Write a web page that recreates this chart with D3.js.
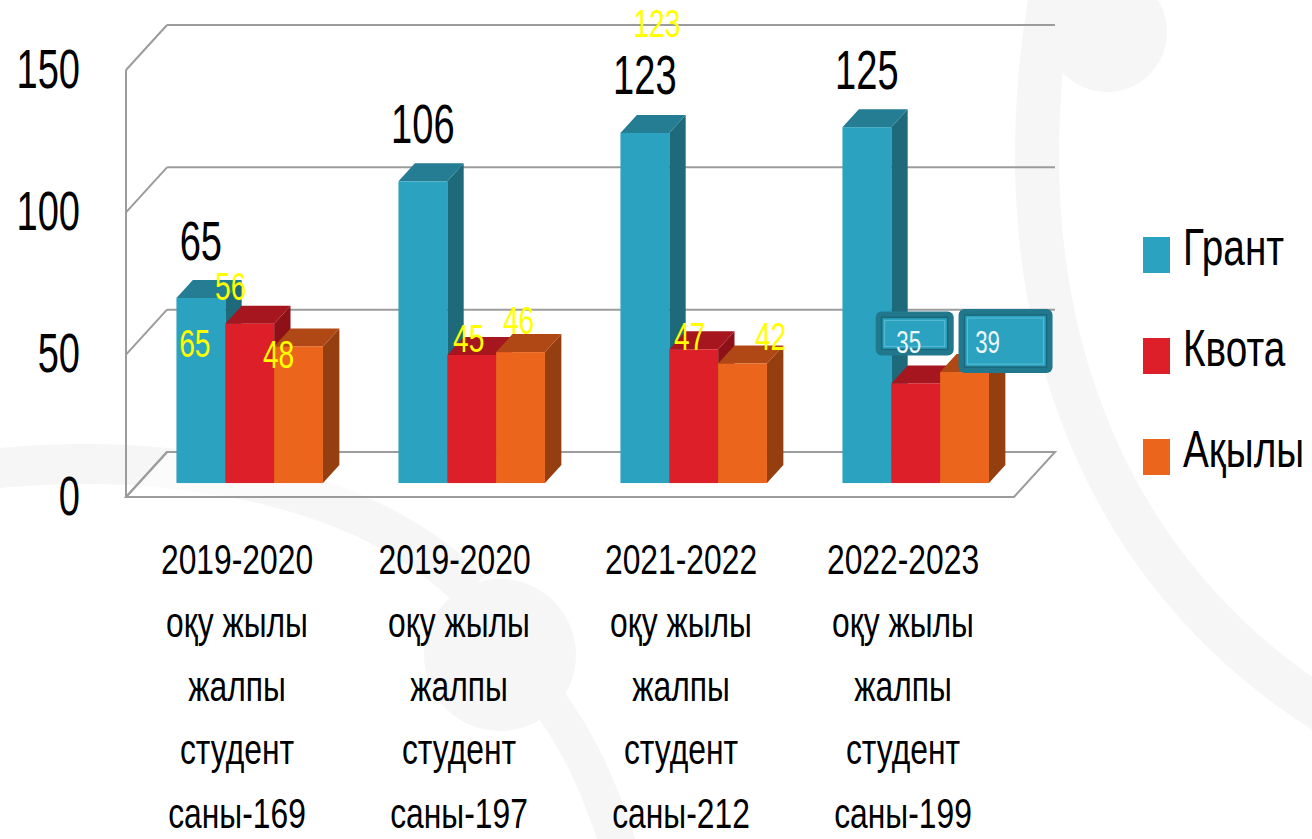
<!DOCTYPE html>
<html>
<head>
<meta charset="utf-8">
<script src="https://cdn.jsdelivr.net/npm/d3@7"></script>
<style>
  body { margin: 0; background: #fff; }
  svg { display: block; font-family: 'Liberation Sans', Arial, sans-serif; }
</style>
</head>
<body>
<div id="chart"></div>
<script>
// ---- data ----
const categories = [
    "2019-2020\nоқу жылы\nжалпы\nстудент\nсаны-169",
    "2019-2020 \nоқу жылы\nжалпы\nстудент\nсаны-197",
    "2021-2022\nоқу жылы\nжалпы\nстудент\nсаны-212",
    "2022-2023\nоқу жылы\nжалпы\nстудент\nсаны-199"
];
const series = ["Грант", "Квота", "Ақылы"];
const grant = [65, 106, 123, 125];
const kvota = [56, 45, 47, 35];
const akyly = [48, 46, 42, 39];
const yTicks = [0, 50, 100, 150];

// ---- layout ----
const W = 1312, H = 839;
const frontLeft = 126, frontRight = 1014;
const depthX = 41, depthY = 45;        // full floor depth
const barZ = 0.31, barDepth = 0.4;      // bar position / thickness as share of depth

const colors = {
    front: ["#2ba2c0", "#dc1f29", "#eb661c"],
    top:   ["#247d93", "#a6161e", "#b04815"],
    side:  ["#1e6a7b", "#8d1117", "#953f11"]
};

// inner value labels, offset from each bar's top centre (null = not shown)
const innerOffsets = [
    [[-6, 59], [-19, -24], [-20, 22]],
    [null, [-3, -3], [-2, -18]],
    [[12, -96], [-4, 1], [28, -13]],
    [null, null, null]
];
// boxed labels of the last group: rect offset from bar top centre and text offset
const boxLabels = [
    { cat: 3, s: 1, x: -40, y: -72, w: 78, h: 44, tx: -7, ty: -30 },
    { cat: 3, s: 2, x: -6, y: -63, w: 94, h: 64, tx: 23, ty: -19 }
];

const values = [grant, kvota, akyly];

const svg = d3.select('#chart').append('svg')
    .attr('width', W)
    .attr('height', H);

// faint background decoration
const bgColor = '#f6f6f6';
const bg = svg.append('g').attr('fill', 'none').attr('stroke', bgColor);
bg.append('path').attr('stroke-width', 44)
    .attr('d', 'M1052,-10 C1000,280 1080,560 1330,715');
bg.append('circle').attr('cx', 1107).attr('cy', 32).attr('r', 60)
    .attr('fill', bgColor).attr('stroke', 'none');
bg.append('path').attr('stroke-width', 40)
    .attr('d', 'M-20,470 C160,450 360,480 470,590');
bg.append('circle').attr('cx', 500).attr('cy', 655).attr('r', 76)
    .attr('fill', bgColor).attr('stroke', 'none');
bg.append('path').attr('stroke-width', 36)
    .attr('d', 'M540,690 C580,740 600,790 620,850');

// ---- scales ----
const yFront = d3.scaleLinear().domain([0, 150]).range([497, 70]);
const x0 = d3.scaleBand().domain(categories).range([frontLeft, frontRight])
    .paddingInner(0.34).paddingOuter(0.17);
const x1 = d3.scaleBand().domain(series).range([0, x0.bandwidth()]);

// projection of a front-plane point to depth z (0 = front, 1 = back wall)
const px = (x, z) => x + z * depthX;
const py = (y, z) => y - z * depthY;

// ---- walls and gridlines ----
const grid = svg.append('g').attr('fill', 'none')
    .attr('stroke', '#9c9c9c').attr('stroke-width', 2);

grid.append('path')
    .attr('d', `M${frontLeft},${yFront(0)}L${frontRight},${yFront(0)}L${px(frontRight, 1)},${py(yFront(0), 1)}L${px(frontLeft, 1)},${py(yFront(0), 1)}Z`)
    .attr('fill', '#fff').attr('fill-opacity', 0.6);
grid.append('line')
    .attr('x1', frontLeft).attr('x2', frontLeft)
    .attr('y1', yFront(150)).attr('y2', yFront(0));
grid.selectAll('.hline').data(yTicks.filter(d => d > 0)).join('line')
    .attr('x1', px(frontLeft, 1)).attr('x2', px(frontRight, 1))
    .attr('y1', d => py(yFront(d), 1)).attr('y2', d => py(yFront(d), 1));
grid.selectAll('.dline').data(yTicks).join('line')
    .attr('x1', frontLeft).attr('y1', d => yFront(d))
    .attr('x2', px(frontLeft, 1)).attr('y2', d => py(yFront(d), 1));

// ---- bars ----
const dxB = barDepth * depthX, dyB = barDepth * depthY;
const bars = svg.append('g');
categories.forEach((c, ci) => {
    series.forEach((s, si) => {
        const v = values[si][ci];
        const x = px(x0(c) + x1(s), barZ);
        const w = x1.bandwidth();
        const yb = py(yFront(0), barZ);
        const yt = py(yFront(v), barZ);
        const g = bars.append('g');
        g.append('path').attr('fill', colors.side[si])
            .attr('d', `M${x + w},${yt}L${x + w + dxB},${yt - dyB}L${x + w + dxB},${yb - dyB}L${x + w},${yb}Z`);
        g.append('path').attr('fill', colors.top[si])
            .attr('d', `M${x},${yt}L${x + dxB},${yt - dyB}L${x + w + dxB},${yt - dyB}L${x + w},${yt}Z`);
        g.append('rect').attr('fill', colors.front[si])
            .attr('x', x).attr('y', yt).attr('width', w).attr('height', yb - yt);
    });
});

function narrowText(parent, x, y, str, size, sx, fill) {
    return parent.append('text')
        .attr('transform', `translate(${x},${y}) scale(${sx},1)`)
        .attr('text-anchor', 'middle')
        .attr('font-size', size)
        .attr('fill', fill || '#000')
        .text(str);
}

const barTop = (ci, si) => ({
    x: px(x0(categories[ci]) + x1(series[si]) + x1.bandwidth() / 2, barZ),
    y: py(yFront(values[si][ci]), barZ)
});

// ---- big labels above Грант ----
const labels = svg.append('g');
grant.forEach((v, ci) => {
    const p = barTop(ci, 0);
    narrowText(labels, p.x, p.y - 38.5, v, 56, 0.68);
});

// ---- yellow inner labels ----
innerOffsets.forEach((row, ci) => {
    row.forEach((o, si) => {
        if (!o) return;
        const p = barTop(ci, si);
        narrowText(labels, p.x + o[0], p.y + o[1], values[si][ci], 38, 0.74, '#ffff00');
    });
});

// ---- boxed labels ----
boxLabels.forEach(b => {
    const p = barTop(b.cat, b.s);
    const g = labels.append('g').attr('transform', `translate(${p.x},${p.y})`);
    g.append('rect').attr('x', b.x).attr('y', b.y).attr('width', b.w).attr('height', b.h)
        .attr('rx', 6).attr('fill', '#21788d');
    g.append('rect').attr('x', b.x + 6).attr('y', b.y + 6).attr('width', b.w - 12).attr('height', b.h - 12)
        .attr('fill', '#2ba2c0').attr('stroke', '#1b6678').attr('stroke-width', 1.5);
    g.append('rect').attr('x', b.x + 9).attr('y', b.y + 9).attr('width', b.w - 18).attr('height', b.h - 18)
        .attr('fill', 'none').attr('stroke', '#5cbcd3').attr('stroke-width', 1);
    narrowText(g, b.tx, b.ty, values[b.s][b.cat], 31, 0.72, '#eef7fa');
});

// ---- y axis ----
const yAxis = svg.append('g')
    .attr('transform', `translate(${frontLeft},0)`)
    .call(d3.axisLeft(yFront).tickValues(yTicks).tickSize(0));
yAxis.select('.domain').remove();
yAxis.attr('font-family', null).attr('font-size', null);
yAxis.selectAll('text')
    .attr('x', 0).attr('dy', null)
    .attr('transform', 'translate(-46,17) scale(0.68,1)')
    .attr('font-size', 56)
    .attr('fill', '#000');

// ---- x axis (multi-line category labels) ----
const xAxis = svg.append('g')
    .attr('transform', 'translate(0,574)')
    .call(d3.axisBottom(x0).tickSize(0));
xAxis.select('.domain').remove();
xAxis.attr('font-family', null).attr('font-size', null);
xAxis.selectAll('text').each(function (d) {
    const t = d3.select(this).text(null)
        .attr('y', 0).attr('dy', null)
        .attr('transform', 'scale(0.74,1)')
        .attr('font-size', 43)
        .attr('fill', '#000');
    d.trim().split('\n').forEach((line, i) => {
        t.append('tspan').attr('x', 0).attr('y', i * 63.5).text(line);
    });
});

// ---- legend ----
const legend = svg.append('g');
series.forEach((s, i) => {
    const y = 265 + i * 101;
    legend.append('rect').attr('x', 1143).attr('y', y - 28)
        .attr('width', 27).attr('height', 36).attr('fill', colors.front[i]);
    legend.append('text')
        .attr('transform', `translate(1183,${y}) scale(0.76,1)`)
        .attr('font-size', 51)
        .attr('fill', '#000')
        .text(s);
});
</script>
</body>
</html>
